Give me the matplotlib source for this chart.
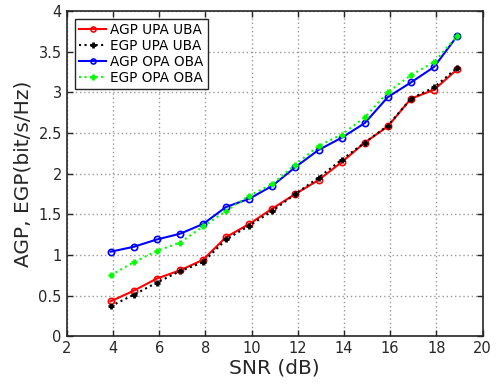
import numpy as np
import matplotlib
matplotlib.use("Agg")
import matplotlib.pyplot as plt

# ------------------------------------------------------------------
# DATA
# ------------------------------------------------------------------
snr = [3.9, 4.9, 5.9, 6.9, 7.9, 8.9, 9.9, 10.9, 11.9, 12.9, 13.9, 14.9, 15.9, 16.9, 17.9, 18.9]

agp_upa_uba = [0.43, 0.56, 0.71, 0.81, 0.94, 1.22, 1.38, 1.57, 1.75, 1.92, 2.14, 2.38, 2.58, 2.92, 3.03, 3.28]
egp_upa_uba = [0.37, 0.51, 0.66, 0.80, 0.91, 1.19, 1.36, 1.54, 1.75, 1.95, 2.17, 2.38, 2.59, 2.92, 3.06, 3.30]
agp_opa_oba = [1.04, 1.10, 1.19, 1.26, 1.38, 1.59, 1.69, 1.85, 2.08, 2.29, 2.44, 2.62, 2.94, 3.12, 3.31, 3.69]
egp_opa_oba = [0.75, 0.91, 1.05, 1.15, 1.35, 1.54, 1.73, 1.87, 2.11, 2.34, 2.48, 2.69, 3.00, 3.21, 3.37, 3.69]

labels = ['AGP UPA UBA', 'EGP UPA UBA', 'AGP OPA OBA', 'EGP OPA OBA']

TXT = '#262626'
plt.rcParams['font.family'] = 'DejaVu Sans'

fig = plt.figure(figsize=(4.98, 3.87), dpi=100)
ax = fig.add_axes([0.134, 0.131, 0.835, 0.841])

ax.plot(snr, agp_upa_uba, '-o', color='red', lw=1.5, ms=4.5, mfc='none', mew=1.2, label=labels[0])
ax.plot(snr, egp_upa_uba, ':+', color='black', lw=1.5, ms=5, mew=2, label=labels[1])
ax.plot(snr, agp_opa_oba, '-o', color='blue', lw=1.5, ms=4.5, mfc='none', mew=1.2, label=labels[2])
ax.plot(snr, egp_opa_oba, ':+', color='#00ff00', lw=1.5, ms=5, mew=2, label=labels[3])

ax.set_xlim(2, 20)
ax.set_ylim(0, 4)
ax.set_xticks(np.arange(2, 21, 2))
ax.set_yticks(np.arange(0, 4.01, 0.5))
ax.set_yticklabels(['0', '0.5', '1', '1.5', '2', '2.5', '3', '3.5', '4'])
ax.grid(True, linestyle=(0, (1, 2)), color='#999999', linewidth=1.0)
ax.tick_params(direction='in', length=4, width=1, colors=TXT, labelsize=10.5,
               top=True, right=True)
for s in ax.spines.values():
    s.set_color(TXT)
    s.set_linewidth(1.2)

ax.set_xlabel('SNR (dB)', fontsize=14.5, color=TXT, labelpad=2)
ax.set_ylabel('AGP, EGP(bit/s/Hz)', fontsize=14.5, color=TXT, labelpad=4)

leg = ax.legend(loc='upper left', fontsize=9.8, fancybox=False, framealpha=1,
                edgecolor=TXT, handlelength=2.0, handletextpad=0.3, markerscale=0.8,
                borderpad=0.3, labelspacing=0.15, borderaxespad=0.6)
leg.get_frame().set_linewidth(1.0)

plt.savefig('out.png', dpi=100)
